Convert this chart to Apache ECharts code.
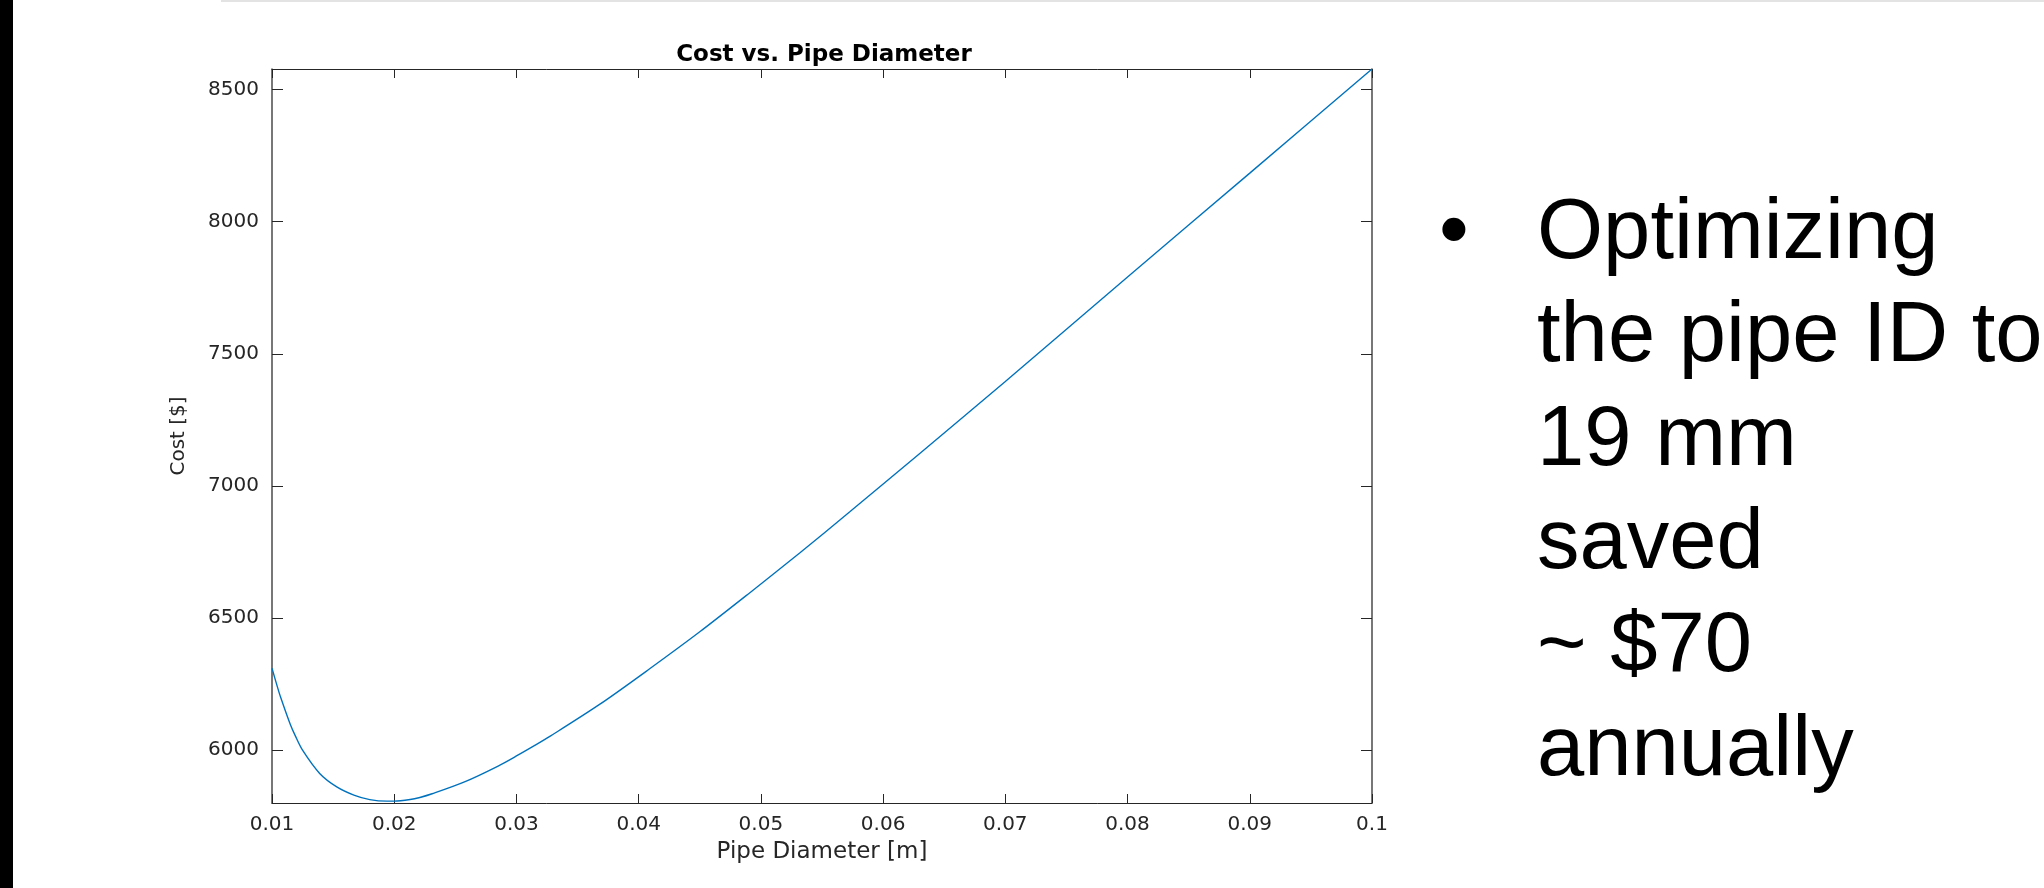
<!DOCTYPE html>
<html>
<head>
<meta charset="utf-8">
<script src="https://cdn.jsdelivr.net/npm/echarts@6/dist/echarts.min.js"></script>
<style>
html,body{margin:0;padding:0;background:#fff;}
#chart{width:2044px;height:888px;}
</style>
</head>
<body>
<div id="chart"></div>
<script>
// Pipe diameter [m]
const diameters = [0.0100, 0.0104, 0.0107, 0.0115, 0.0119, 0.0125, 0.0139, 0.0153, 0.0167, 0.0180,
  0.0194, 0.0200, 0.0213, 0.0221, 0.0231, 0.0258, 0.0285, 0.0300, 0.0315, 0.0328,
  0.0368, 0.0409, 0.0450, 0.0491, 0.0532, 0.0573, 0.0630, 0.0700, 0.0800, 0.0900, 0.1000];
// Cost [$]
const costs = [6310, 6246, 6201, 6097, 6055, 6000, 5912, 5861, 5830, 5813,
  5807, 5807, 5813, 5821, 5835, 5881, 5940, 5978, 6018, 6054,
  6173, 6308, 6448, 6596, 6747, 6903, 7123, 7395, 7791, 8184, 8578];
const xTicks = [0.01, 0.02, 0.03, 0.04, 0.05, 0.06, 0.07, 0.08, 0.09, 0.1];
const yTicks = [6000, 6500, 7000, 7500, 8000, 8500];
const chartTitle = 'Cost vs. Pipe Diameter';
const xName = 'Pipe Diameter [m]';
const yName = 'Cost [$]';
const bulletLines = ['Optimizing', 'the pipe ID to', '19 mm', 'saved', '~ $70', 'annually'];

const X_MIN = 0.01, X_MAX = 0.1, Y_MIN = 5800, Y_MAX = 8578;
const axisColor = '#262626';
const tickFont = {fontFamily: 'DejaVu Sans', fontSize: 20, color: axisColor};

function xAxisDef(pos, main) {
  return {
    type: 'value', position: pos, min: X_MIN, max: X_MAX,
    axisLine: {show: true, onZero: false, lineStyle: {color: axisColor, width: 1}},
    axisTick: {show: true, inside: true, length: 9, customValues: xTicks, lineStyle: {color: axisColor, width: 1}},
    axisLabel: main ? Object.assign({show: true, margin: 12, customValues: xTicks,
      formatter: v => String(v)}, tickFont) : {show: false},
    splitLine: {show: false},
    name: main ? xName : '',
    nameLocation: 'middle', nameGap: 38,
    nameTextStyle: {fontFamily: 'DejaVu Sans', fontSize: 23, color: axisColor}
  };
}
function yAxisDef(pos, main) {
  return {
    type: 'value', position: pos, min: Y_MIN, max: Y_MAX,
    axisLine: {show: true, onZero: false, lineStyle: {color: '#4a4a4a', width: 1.5}},
    axisTick: {show: true, inside: true, length: 11, customValues: yTicks, lineStyle: {color: axisColor, width: 1}},
    axisLabel: main ? Object.assign({show: true, margin: 13, customValues: yTicks,
      formatter: v => String(v)}, tickFont) : {show: false},
    splitLine: {show: false},
    name: main ? yName : '',
    nameLocation: 'middle', nameGap: 83, nameRotate: 90,
    nameTextStyle: {fontFamily: 'DejaVu Sans', fontSize: 20, color: axisColor}
  };
}

const chart = echarts.init(document.getElementById('chart'), null, {renderer: 'canvas'});
chart.setOption({
  animation: false,
  backgroundColor: '#ffffff',
  title: {
    text: chartTitle, left: 819, top: 39, textAlign: 'center',
    textStyle: {fontFamily: 'DejaVu Sans', fontWeight: 'bold', fontSize: 23, color: '#000'}
  },
  grid: {left: 272, top: 69, width: 1100, height: 734, containLabel: false},
  xAxis: [xAxisDef('bottom', true), xAxisDef('top', false)],
  yAxis: [yAxisDef('left', true), yAxisDef('right', false)],
  series: [{
    type: 'line', xAxisIndex: 0, yAxisIndex: 0,
    data: diameters.map((d, i) => [d, costs[i]]),
    showSymbol: false, smooth: 0.3,
    lineStyle: {color: '#0072BD', width: 1.4}
  }],
  graphic: [
    {type: 'rect', shape: {x: 0, y: 0, width: 13, height: 888}, style: {fill: '#000'}},
    {type: 'rect', shape: {x: 221, y: 0, width: 1823, height: 2}, style: {fill: '#e3e3e3'}},
    {type: 'text', x: 1454, y: 183, style: {text: '•', fontFamily: 'Liberation Sans', fontSize: 85,
      lineHeight: 103.3, fill: '#000', align: 'center', verticalAlign: 'top'}},
    {type: 'text', x: 1537, y: 183, style: {text: bulletLines.join('\n'), fontFamily: 'Liberation Sans', fontSize: 85,
      lineHeight: 103.3, fill: '#000', align: 'left', verticalAlign: 'top'}}
  ]
});
</script>
</body>
</html>
